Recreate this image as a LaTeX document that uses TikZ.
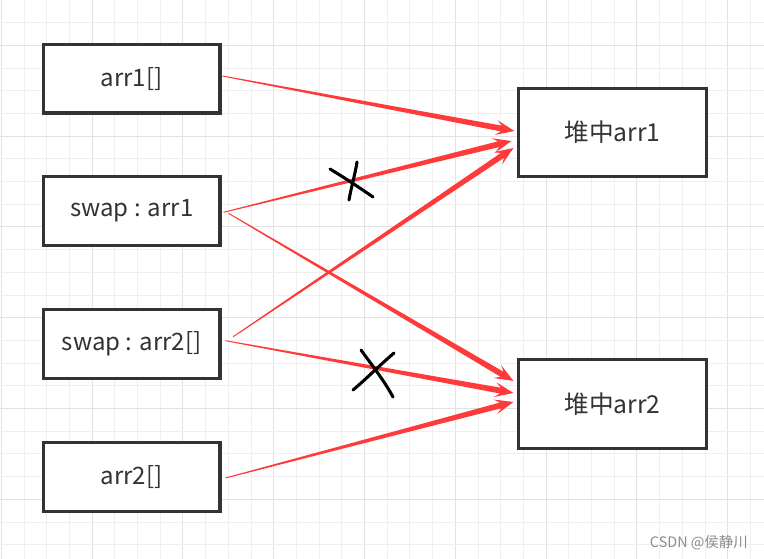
\documentclass[tikz,border=0pt]{standalone}
\usepackage{fontspec}
\setmainfont{Noto Sans CJK SC}
\usetikzlibrary{calc}
\definecolor{arrowred}{RGB}{255,58,58}
\definecolor{boxline}{RGB}{51,51,51}
\definecolor{gridminor}{RGB}{239,239,239}
\definecolor{gridmajor}{RGB}{226,226,226}
\definecolor{wmgray}{RGB}{140,140,140}
\newcommand\taperarrow[2]{%
  \coordinate (tb) at ($(#2)!10pt!(#1)$);
  \coordinate (tc) at ($(#2)!14pt!(#1)$);
  \fill[arrowred] ($(#1)!0.35pt!90:(#2)$) -- ($(tb)!2.2pt!90:(#2)$) -- ($(tc)!5.6pt!90:(#2)$) -- (#2)
     -- ($(tc)!5.6pt!-90:(#2)$) -- ($(tb)!2.2pt!-90:(#2)$) -- ($(#1)!0.35pt!-90:(#2)$) -- cycle;}
\tikzset{
  leftbox/.style={draw=boxline, line width=2.3pt, fill=white, minimum width=132.4pt, minimum height=51.5pt, inner sep=0pt, text=boxline, font=\fontsize{18}{21}\selectfont},
  heapbox/.style={draw=boxline, line width=2.3pt, fill=white, minimum width=140.7pt, minimum height=66.2pt, inner sep=0pt, text=boxline, font=\fontsize{18.5}{21}\selectfont},
  cross/.style={black, line width=2.3pt, line cap=round},
}
\begin{document}
\begin{tikzpicture}[x=0.75pt,y=-0.75pt]
\useasboundingbox (0,0) rectangle (764,559);
\fill[white] (0,0) rectangle (764,559);
% grid
\foreach \k in {0,...,33} {
  \pgfmathtruncatemacro\m{mod(\k,4)}
  \ifnum\m=0 \def\gc{gridmajor}\else\def\gc{gridminor}\fi
  \draw[\gc, line width=0.75pt] ({1.3+22.7*\k},0) -- ({1.3+22.7*\k},559);
}
\foreach \k in {0,...,24} {
  \pgfmathtruncatemacro\m{mod(\k,4)}
  \ifnum\m=2 \def\gc{gridmajor}\else\def\gc{gridminor}\fi
  \draw[\gc, line width=0.75pt] (0,{22.7*\k}) -- (764,{22.7*\k});
}
% boxes
\node[leftbox] (a1) at (131.7,78.7) {arr1[]};
\node[leftbox] (sw1) at (131.7,211) {swap : arr1};
\node[leftbox] (sw2) at (131.7,344) {swap : arr2[]};
\node[leftbox] (a2) at (131.7,477) {arr2[]};
\node[heapbox] (h1) at (612.5,132.2) {堆中arr1};
\node[heapbox] (h2) at (612.5,404) {堆中arr2};
% connector end points
\coordinate (s1) at ($(a1.east)+(1,-2.7)$);
\coordinate (s2a) at ($(sw1.east)+(2,1.3)$);
\coordinate (s2b) at ($(sw1.east)+(7,2.3)$);
\coordinate (s3a) at ($(sw2.east)+(11.7,-7.3)$);
\coordinate (s3b) at ($(sw2.east)+(4,-3.3)$);
\coordinate (s4) at ($(a2.east)+(4,1)$);
\coordinate (t1) at ($(h1.west)+(-2.7,-1.2)$);
\coordinate (t2) at ($(h1.west)+(-5.7,8.8)$);
\coordinate (t3) at ($(h1.west)+(-3.7,15.8)$);
\coordinate (u1) at ($(h2.west)+(-3.7,-23)$);
\coordinate (u2) at ($(h2.west)+(-3.7,-11)$);
\coordinate (u3) at ($(h2.west)+(-3.7,-2)$);
% arrows
\taperarrow{s1}{t1}
\taperarrow{s2a}{t2}
\taperarrow{s2b}{u1}
\taperarrow{s3a}{t3}
\taperarrow{s3b}{u2}
\taperarrow{s4}{u3}
% crosses
\draw[cross] (330,169) .. controls (345,178) and (360,188) .. (373,197);
\draw[cross] (357,162) .. controls (355,175) and (351,188) .. (349,200);
\draw[cross] (361,350) .. controls (368,360) and (384,380) .. (393,397);
\draw[cross] (394,353) .. controls (380,365) and (365,380) .. (353,390);
% watermark
\node[anchor=base east, inner sep=0pt, text=wmgray, font=\fontsize{10.8}{12}\selectfont] (wm) at (748,547) {CSDN @侯静川};
\end{tikzpicture}
\end{document}
